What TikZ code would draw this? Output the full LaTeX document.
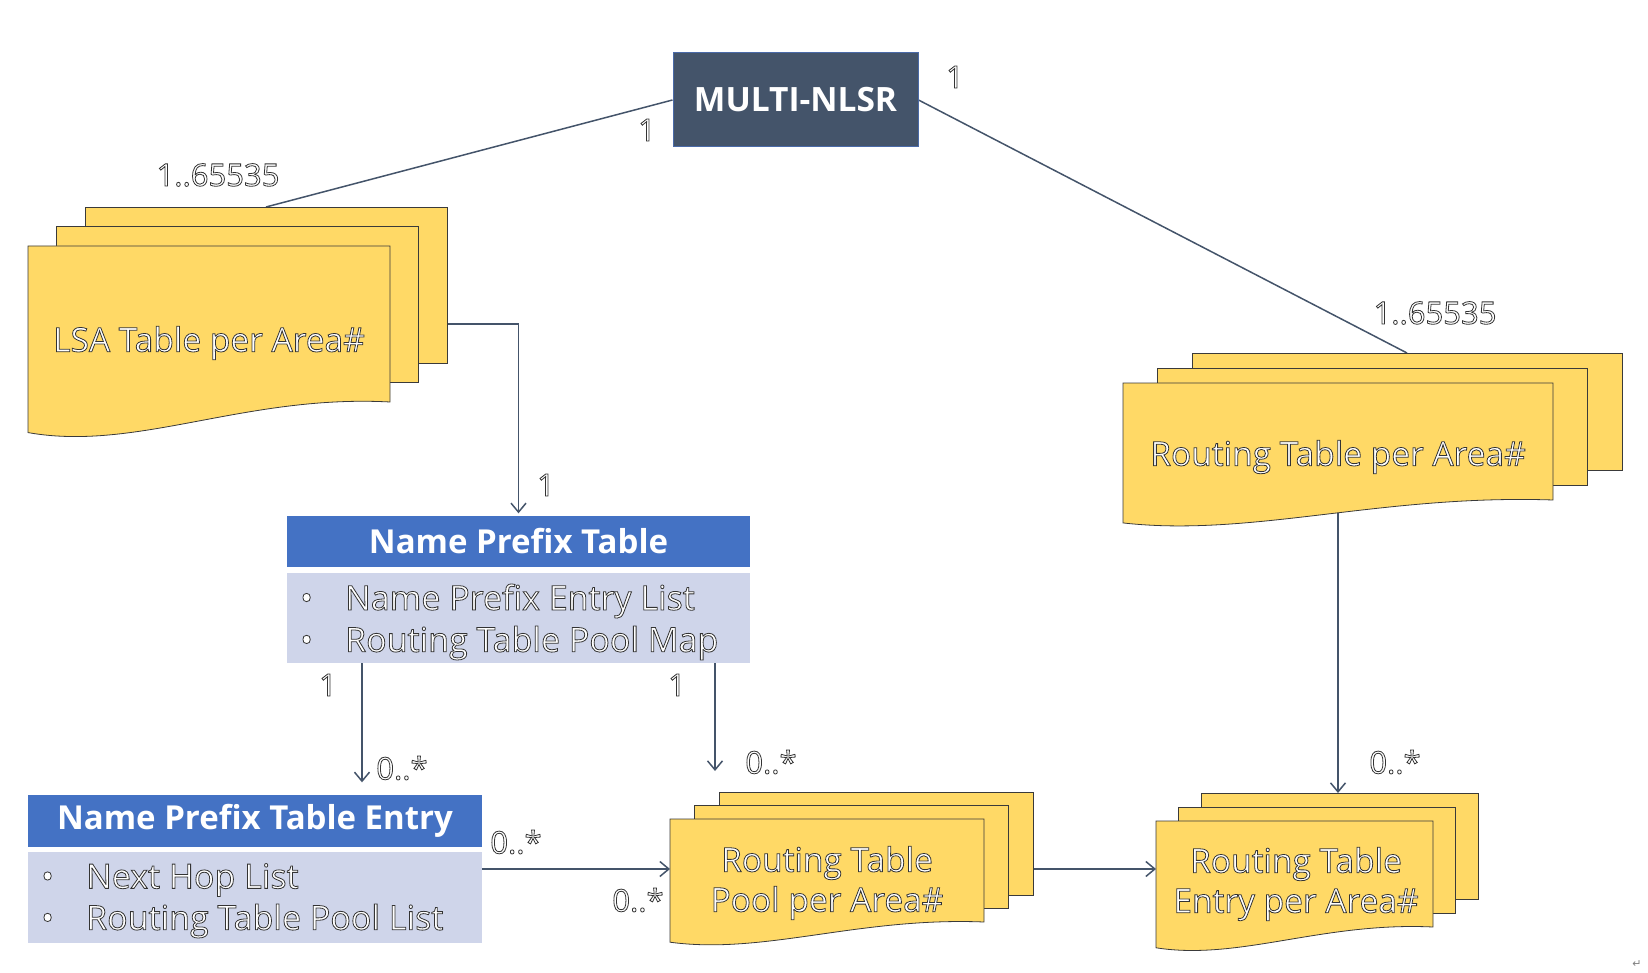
\documentclass[tikz,border=0pt]{standalone}
\usepackage{fontspec}
\setmainfont{Open Sans}
\newfontfamily\symfont{DejaVu Sans}
\usetikzlibrary{arrows.meta,calc}
\definecolor{slate}{HTML}{44546A}
\definecolor{hdrblue}{HTML}{4472C4}
\definecolor{bodylav}{HTML}{CFD5EA}
\definecolor{sheety}{HTML}{FFD966}
\definecolor{sheetedge}{HTML}{3A3A3A}
\definecolor{multiedge}{HTML}{4A6AA8}
\newcommand\olt[1]{\special{pdf:literal direct 2 Tr 0.8 w 0.2 0.2 0.2 RG}#1\special{pdf:literal direct 0 Tr}}
\pgfdeclarelayer{bg}
\pgfsetlayers{bg,main}
\newcommand\sheetstack[7]{%
  \node[sheet, minimum width=#4pt, minimum height=#5pt] (#1B) at ({#2+2*(#6)},{#3+2*(#7)}) {};
  \node[sheet, minimum width=#4pt, minimum height=#5pt] (#1M) at ({#2+(#6)},{#3+(#7)}) {};
  \draw[sheetfront] (#2,#3) -- ++(#4,0) -- ++(0,#5)
     .. controls ({#2+0.6*#4},{#3+0.95*#5}) and ({#2+0.3*#4},{#3+1.32*#5}) .. (#2,{#3+1.196*#5}) -- cycle;
  \node[anchor=north west, inner sep=0pt, outer sep=0pt, minimum width=#4pt, minimum height=#5pt] (#1F) at (#2,#3) {};
}
\begin{document}
\begin{tikzpicture}[x=1pt,y=-1pt,
  sheet/.style={anchor=north west, draw=sheetedge, fill=sheety, line width=0.8pt, inner sep=0pt, outer sep=0pt},
  sheetfront/.style={draw=sheetedge, fill=sheety, line width=0.8pt},
  multi/.style={fill=slate, draw=multiedge, line width=1pt, text=white, font=\bfseries\fontsize{33.5}{40}\selectfont, minimum width=245pt, minimum height=94pt, inner sep=0pt},
  hdr/.style={fill=hdrblue, text=white, font=\bfseries\fontsize{33}{40}\selectfont, inner sep=0pt},
  bodybox/.style={fill=bodylav, inner sep=0pt},
  item/.style={anchor=west, text=white, font=\fontsize{34}{40}\selectfont, inner sep=0pt},
  stxt/.style={text=white, font=\fontsize{33.5}{40}\selectfont, inner sep=0pt, align=center},
  lbl/.style={text=white, font=\fontsize{31}{37}\selectfont, inner sep=0pt},
  conn/.style={draw=slate, line width=1.5pt},
  arr/.style={conn, -{Straight Barb[length=9pt,width=15pt]}}
]
\useasboundingbox (0,0) rectangle (1648,973);

\node[multi] (multi) at (795.5,100) {MULTI-NLSR};

\sheetstack{lsa}{28}{246}{362}{156}{28.5}{-19.5}
\sheetstack{rt}{1123}{383}{430}{117}{34.5}{-15}
\sheetstack{pool}{670}{819}{314}{103}{24.5}{-13.5}
\sheetstack{ent}{1156}{821}{277}{106}{22.5}{-14}

\node[hdr, minimum width=463pt, minimum height=51pt] (npth) at (518.5,541) {Name Prefix Table};
\node[bodybox, minimum width=463pt, minimum height=90pt] (npb) at (518.5,618) {};
\node[hdr, minimum width=454pt, minimum height=52pt] (eh) at (255,820.5) {Name Prefix Table Entry};
\node[bodybox, minimum width=454pt, minimum height=91pt] (eb) at (255,897.5) {};

\node[item] (npi1) at (300,601) {\olt{\makebox[45pt][l]{•}Name Prefix Entry List}};
\node[item] (npi2) at (300,643) {\olt{\makebox[45pt][l]{•}Routing Table Pool Map}};
\node[item] (ei1) at (41,880) {\olt{\makebox[45pt][l]{•}Next Hop List}};
\node[item] (ei2) at (41,921) {\olt{\makebox[45pt][l]{•}Routing Table Pool List}};

\node[stxt] (lsat) at (209,343) {\olt{LSA Table per Area\#}};
\node[stxt] (rtt) at (1338,457) {\olt{Routing Table per Area\#}};
\node[stxt] (poolt) at (827,883) {\olt{Routing Table\\Pool per Area\#}};
\node[stxt] (entt) at (1296,884) {\olt{Routing Table\\Entry per Area\#}};

\node[lbl] (l1) at (218,175) {\olt{1..65535}};
\node[lbl] (l2) at (647,130) {\olt{1}};
\node[lbl] (l3) at (955,77) {\olt{1}};
\node[lbl] (l4) at (1435,313) {\olt{1..65535}};
\node[lbl] (l5) at (546,485) {\olt{1}};
\node[lbl] (l6) at (328,685) {\olt{1}};
\node[lbl] (l7) at (402,768) {\olt{0..*}};
\node[lbl] (l8) at (677,685) {\olt{1}};
\node[lbl] (l9) at (771,762) {\olt{0..*}};
\node[lbl] (l10) at (516,842) {\olt{0..*}};
\node[lbl] (l11) at (638,900) {\olt{0..*}};
\node[lbl] (l12) at (1395,762) {\olt{0..*}};

\node[font=\symfont\fontsize{11}{13}\selectfont, text=gray, inner sep=0pt] (ret) at (1637,964) {↵};

\begin{pgfonlayer}{bg}
\coordinate (c1) at (362,0);
\coordinate (c2) at (715,0);
\coordinate (c3) at (0,869);
\coordinate (c4) at (1338,0);
\draw[conn] (multi.west) -- (lsaB.north);
\draw[conn] (multi.east) -- (rtB.north);
\draw[arr, shorten >=2pt] (lsaB.east |- lsaF.center) -| (npth.north);
\draw[arr, shorten >=12pt] (npb.south -| c1) -- (eh.north -| c1);
\draw[arr, shorten >=21pt] (npb.south -| c2) -- (poolB.north -| c2);
\draw[arr] (eb.east |- c3) -- (poolF.west |- c3);
\draw[arr] (poolB.east |- c3) -- (entF.west |- c3);
\draw[arr] (rtF.center -| c4) -- (entB.north -| c4);
\end{pgfonlayer}
\end{tikzpicture}
\end{document}
